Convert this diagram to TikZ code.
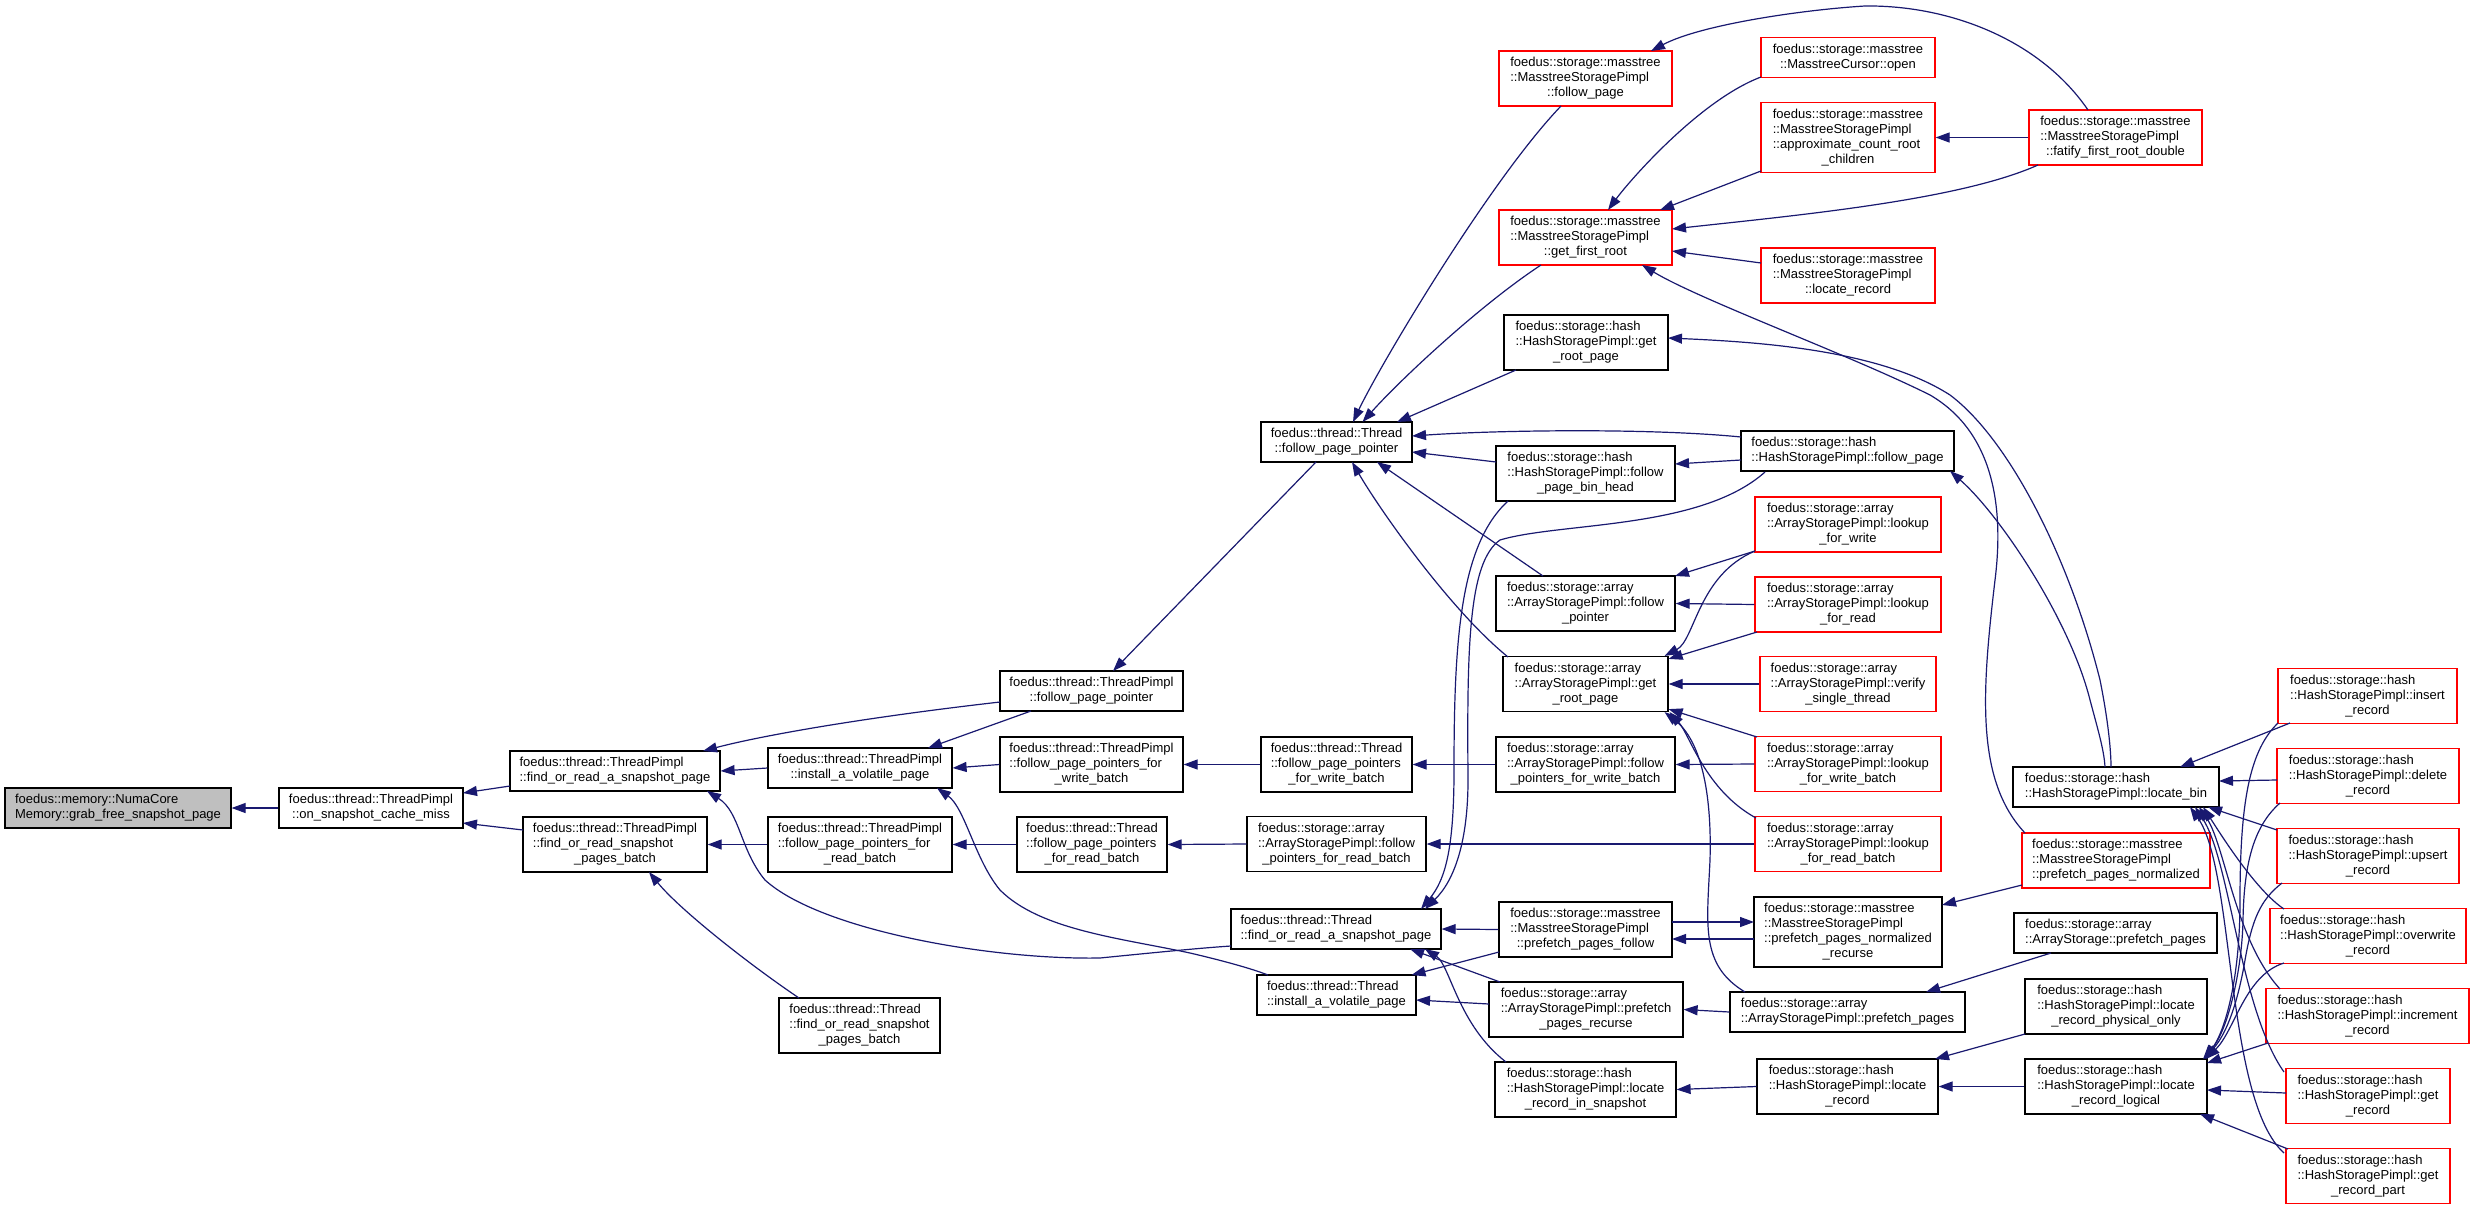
\documentclass[tikz,border=0pt]{standalone}
\usepackage{fontspec}
\setmainfont{Liberation Sans}
\usetikzlibrary{arrows.meta,calc}
\definecolor{cgblue}{HTML}{191970}
\definecolor{cggray}{HTML}{BFBFBF}
\newcommand{\cglab}[2]{\begin{tabular}{@{}l@{}}#1\\\multicolumn{1}{@{}c@{}}{#2}\end{tabular}}
\begin{document}
\begin{tikzpicture}[x=1pt,y=-1pt,
  bx/.style={draw=black, line width=1.2pt, fill=white, inner sep=0pt, rectangle, font=\fontsize{13}{15}\selectfont},
  rbx/.style={bx, draw=red},
  sz/.style 2 args={minimum width=#1pt, minimum height=#2pt},
  cg/.style={draw=cgblue, line width=1.2pt, arrows={Triangle[length=14pt,width=10pt]-}}]
\fill[white] (0,0) rectangle (2475,1210);
\useasboundingbox (0,0) rectangle (2475,1210);

% ---------- nodes ----------
\node[bx,fill=cggray,sz={226}{40}] (grab) at (118,808) {\cglab{foedus::memory::NumaCore}{Memory::grab\_free\_snapshot\_page}};
\node[bx,sz={184}{40}] (osc) at (371,808) {\cglab{foedus::thread::ThreadPimpl}{::on\_snapshot\_cache\_miss}};
\node[bx,sz={210}{40}] (tpfind) at (615,771) {\cglab{foedus::thread::ThreadPimpl}{::find\_or\_read\_a\_snapshot\_page}};
\node[bx,sz={184}{55}] (tpbatch) at (615,844.5) {\cglab{foedus::thread::ThreadPimpl\\::find\_or\_read\_snapshot}{\_pages\_batch}};
\node[bx,sz={184}{40}] (tpinstall) at (860,768) {\cglab{foedus::thread::ThreadPimpl}{::install\_a\_volatile\_page}};
\node[bx,sz={183}{40}] (tpfpp) at (1091.5,691) {\cglab{foedus::thread::ThreadPimpl}{::follow\_page\_pointer}};
\node[bx,sz={183}{55}] (tpfppw) at (1091.5,764.5) {\cglab{foedus::thread::ThreadPimpl\\::follow\_page\_pointers\_for}{\_write\_batch}};
\node[bx,sz={184}{55}] (tpfppr) at (860,844.5) {\cglab{foedus::thread::ThreadPimpl\\::follow\_page\_pointers\_for}{\_read\_batch}};
\node[bx,sz={150}{55}] (thfppr) at (1092,844.5) {\cglab{foedus::thread::Thread\\::follow\_page\_pointers}{\_for\_read\_batch}};
\node[bx,sz={161}{55}] (thbatch) at (859.5,1025.5) {\cglab{foedus::thread::Thread\\::find\_or\_read\_snapshot}{\_pages\_batch}};
\node[bx,sz={151}{55}] (thfppw) at (1336.5,764.5) {\cglab{foedus::thread::Thread\\::follow\_page\_pointers}{\_for\_write\_batch}};
\node[bx,sz={179}{55}] (arfpr) at (1336.5,844) {\cglab{foedus::storage::array\\::ArrayStoragePimpl::follow}{\_pointers\_for\_read\_batch}};
\node[bx,sz={210}{40}] (thfind) at (1336,929) {\cglab{foedus::thread::Thread}{::find\_or\_read\_a\_snapshot\_page}};
\node[bx,sz={159}{40}] (thinstall) at (1336.5,995) {\cglab{foedus::thread::Thread}{::install\_a\_volatile\_page}};
\node[bx,sz={151}{40}] (thfpp) at (1336.5,442) {\cglab{foedus::thread::Thread}{::follow\_page\_pointer}};

\node[rbx,sz={173}{55}] (mfollow) at (1585.5,78.5) {\cglab{foedus::storage::masstree\\::MasstreeStoragePimpl}{::follow\_page}};
\node[rbx,sz={173}{55}] (mgfr) at (1585.5,237.5) {\cglab{foedus::storage::masstree\\::MasstreeStoragePimpl}{::get\_first\_root}};
\node[rbx,sz={174}{40}] (mopen) at (1848,57.5) {\cglab{foedus::storage::masstree}{::MasstreeCursor::open}};
\node[rbx,sz={174}{70}] (mapprox) at (1848,137.5) {\cglab{foedus::storage::masstree\\::MasstreeStoragePimpl\\::approximate\_count\_root}{\_children}};
\node[rbx,sz={174}{55}] (mlocate) at (1848,275.5) {\cglab{foedus::storage::masstree\\::MasstreeStoragePimpl}{::locate\_record}};
\node[rbx,sz={173}{55}] (mfatify) at (2115.5,137.5) {\cglab{foedus::storage::masstree\\::MasstreeStoragePimpl}{::fatify\_first\_root\_double}};

\node[bx,sz={164}{55}] (hgrp) at (1586,342.5) {\cglab{foedus::storage::hash\\::HashStoragePimpl::get}{\_root\_page}};
\node[bx,sz={179}{55}] (hfpbh) at (1585.5,473.5) {\cglab{foedus::storage::hash\\::HashStoragePimpl::follow}{\_page\_bin\_head}};
\node[bx,sz={213}{40}] (hfp) at (1847.5,451) {\cglab{foedus::storage::hash}{::HashStoragePimpl::follow\_page}};
\node[bx,sz={179}{55}] (afp) at (1585.5,603.5) {\cglab{foedus::storage::array\\::ArrayStoragePimpl::follow}{\_pointer}};
\node[bx,sz={165}{55}] (agrp) at (1585.5,684) {\cglab{foedus::storage::array\\::ArrayStoragePimpl::get}{\_root\_page}};
\node[bx,sz={179}{55}] (afpw) at (1585.5,764.5) {\cglab{foedus::storage::array\\::ArrayStoragePimpl::follow}{\_pointers\_for\_write\_batch}};
\node[bx,sz={173}{55}] (mppf) at (1585.5,929.5) {\cglab{foedus::storage::masstree\\::MasstreeStoragePimpl}{::prefetch\_pages\_follow}};
\node[bx,sz={194}{55}] (appr) at (1586,1009.5) {\cglab{foedus::storage::array\\::ArrayStoragePimpl::prefetch}{\_pages\_recurse}};
\node[bx,sz={181}{55}] (hlris) at (1585.5,1089.5) {\cglab{foedus::storage::hash\\::HashStoragePimpl::locate}{\_record\_in\_snapshot}};

\node[rbx,sz={186}{55}] (alfw) at (1848,524.5) {\cglab{foedus::storage::array\\::ArrayStoragePimpl::lookup}{\_for\_write}};
\node[rbx,sz={186}{55}] (alfr) at (1848,604.5) {\cglab{foedus::storage::array\\::ArrayStoragePimpl::lookup}{\_for\_read}};
\node[rbx,sz={176}{55}] (avst) at (1848,684) {\cglab{foedus::storage::array\\::ArrayStoragePimpl::verify}{\_single\_thread}};
\node[rbx,sz={186}{55}] (alfwb) at (1848,764) {\cglab{foedus::storage::array\\::ArrayStoragePimpl::lookup}{\_for\_write\_batch}};
\node[rbx,sz={186}{55}] (alfrb) at (1848,844) {\cglab{foedus::storage::array\\::ArrayStoragePimpl::lookup}{\_for\_read\_batch}};
\node[bx,sz={188}{70}] (mppnr) at (1848,932) {\cglab{foedus::storage::masstree\\::MasstreeStoragePimpl\\::prefetch\_pages\_normalized}{\_recurse}};
\node[bx,sz={235}{40}] (apimplpp) at (1847.5,1012) {\cglab{foedus::storage::array}{::ArrayStoragePimpl::prefetch\_pages}};
\node[bx,sz={181}{55}] (hlr) at (1847.5,1086.5) {\cglab{foedus::storage::hash\\::HashStoragePimpl::locate}{\_record}};

\node[bx,sz={206}{40}] (hlbin) at (2116,787) {\cglab{foedus::storage::hash}{::HashStoragePimpl::locate\_bin}};
\node[rbx,sz={188}{55}] (mppn) at (2116,860.5) {\cglab{foedus::storage::masstree\\::MasstreeStoragePimpl}{::prefetch\_pages\_normalized}};
\node[bx,sz={203}{40}] (aspp) at (2115.5,933) {\cglab{foedus::storage::array}{::ArrayStorage::prefetch\_pages}};
\node[bx,sz={182}{55}] (hlrpo) at (2116,1006.5) {\cglab{foedus::storage::hash\\::HashStoragePimpl::locate}{\_record\_physical\_only}};
\node[bx,sz={182}{55}] (hlrl) at (2116,1086.5) {\cglab{foedus::storage::hash\\::HashStoragePimpl::locate}{\_record\_logical}};

\node[rbx,sz={179}{55}] (hins) at (2367.5,696) {\cglab{foedus::storage::hash\\::HashStoragePimpl::insert}{\_record}};
\node[rbx,sz={182}{55}] (hdel) at (2368,776) {\cglab{foedus::storage::hash\\::HashStoragePimpl::delete}{\_record}};
\node[rbx,sz={182}{55}] (hups) at (2368,856) {\cglab{foedus::storage::hash\\::HashStoragePimpl::upsert}{\_record}};
\node[rbx,sz={196}{55}] (hovw) at (2368,936) {\cglab{foedus::storage::hash\\::HashStoragePimpl::overwrite}{\_record}};
\node[rbx,sz={203}{55}] (hinc) at (2367.5,1016) {\cglab{foedus::storage::hash\\::HashStoragePimpl::increment}{\_record}};
\node[rbx,sz={164}{55}] (hget) at (2368,1096) {\cglab{foedus::storage::hash\\::HashStoragePimpl::get}{\_record}};
\node[rbx,sz={164}{55}] (hgetp) at (2368,1176) {\cglab{foedus::storage::hash\\::HashStoragePimpl::get}{\_record\_part}};

% ---------- edges (arrow at callee) ----------
\draw[cg] (grab.east) -- (osc.west);
\draw[cg] ($(osc)+(92,-15)$) -- ($(tpfind)+(-105,15)$);
\draw[cg] ($(osc)+(92,15)$) -- ($(tpbatch)+(-92,-14.5)$);
\draw[cg] (tpfind.east) -- (tpinstall.west);
\draw[cg] ($(tpfind)+(88,-20)$) .. controls (760,736) and (860,718) .. ($(tpfpp)+(-91.5,11)$);
\draw[cg] ($(tpfind)+(92,20)$) .. controls (740,812) and (740,850) .. (765,880) .. controls (820,930) and (990,960) .. (1100,958) .. controls (1150,953) and (1200,948) .. ($(thfind)+(-105,17)$);
\draw[cg] (tpbatch.east) -- (tpfppr.west);
\draw[cg] ($(tpbatch)+(34,27.5)$) .. controls (680,910) and (750,965) .. ($(thbatch)+(-60.5,-27.5)$);
\draw[cg] ($(tpinstall)+(68,-20)$) -- ($(tpfpp)+(-60.5,20)$);
\draw[cg] (tpinstall.east) -- (tpfppw.west);
\draw[cg] ($(tpinstall)+(77,20)$) .. controls (965,808) and (975,860) .. (1000,890) .. controls (1040,930) and (1120,938) .. (1190,953) .. controls (1220,960) and (1250,968) .. ($(thinstall)+(-68.5,-20)$);
\draw[cg] ($(tpfpp)+(21.5,-20)$) -- ($(thfpp)+(-20.5,20)$);
\draw[cg] (tpfppw.east) -- (thfppw.west);
\draw[cg] (tpfppr.east) -- (thfppr.west);
\draw[cg] (thfppr.east) -- (arfpr.west);
\draw[cg] (thfppw.east) -- (afpw.west);
\draw[cg] (arfpr.east) -- (alfrb.west);
\draw[cg] (afpw.east) -- (alfwb.west);

% into Thread::follow_page_pointer
\draw[cg] ($(thfpp)+(16.5,-20)$) .. controls (1380,365) and (1490,180) .. ($(mfollow)+(-24.5,27.5)$);
\draw[cg] ($(thfpp)+(26,-20)$) .. controls (1400,380) and (1480,305) .. ($(mgfr)+(-44.5,27.5)$);
\draw[cg] ($(thfpp)+(60.5,-20)$) -- ($(hgrp)+(-70,27.5)$);
\draw[cg] ($(thfpp)+(75.5,-6)$) .. controls (1500,430) and (1650,428) .. ($(hfp)+(-106.5,-14)$);
\draw[cg] ($(thfpp)+(75.5,10)$) -- ($(hfpbh)+(-89.5,-11.5)$);
\draw[cg] ($(thfpp)+(40.5,20)$) -- ($(afp)+(-42.5,-27.5)$);
\draw[cg] ($(thfpp)+(15.5,20)$) .. controls (1380,510) and (1450,610) .. ($(agrp)+(-77.5,-27)$);

% into Thread::find_or_read_a_snapshot_page
\draw[cg] ($(thfind)+(85,-20)$) .. controls (1445,880) and (1454,850) .. (1454,770) .. controls (1454,640) and (1460,545) .. ($(hfpbh)+(-77.5,27.5)$);
\draw[cg] ($(thfind)+(89,-20)$) .. controls (1455,880) and (1468,840) .. (1468,780) .. controls (1467,650) and (1468,562) .. (1500,540) .. controls (1560,522) and (1700,530) .. ($(hfp)+(-82.5,21)$);
\draw[cg] (thfind.east) -- (mppf.west);
\draw[cg] ($(thfind)+(74,20)$) -- ($(appr)+(-86,-27.5)$);
\draw[cg] ($(thfind)+(89,20)$) .. controls (1450,965) and (1458,1025) .. ($(hlris)+(-79.5,-27.5)$);

% into Thread::install_a_volatile_page
\draw[cg] ($(thinstall)+(75,-20)$) -- ($(mppf)+(-86.5,22.5)$);
\draw[cg] ($(thinstall)+(79.5,5)$) -- ($(appr)+(-97,-5.5)$);

% masstree
\draw[cg] ($(mfollow)+(65.5,-27.5)$) .. controls (1700,25) and (1800,10) .. (1865,6) .. controls (1950,5) and (2040,40) .. ($(mfatify)+(-27.5,-27.5)$);
\draw[cg] ($(mgfr)+(22.5,-27.5)$) .. controls (1630,180) and (1700,100) .. ($(mopen)+(-87,19.5)$);
\draw[cg] ($(mgfr)+(74.5,-27.5)$) -- ($(mapprox)+(-87,33.5)$);
\draw[cg] ($(mgfr)+(86.5,-8.5)$) .. controls (1800,215) and (1960,200) .. ($(mfatify)+(-77.5,27.5)$);
\draw[cg] ($(mgfr)+(86.5,13.5)$) -- ($(mlocate)+(-87,-12.5)$);
\draw[cg] ($(mgfr)+(56.5,27.5)$) .. controls (1700,300) and (1850,355) .. (1930,395) .. controls (1990,430) and (2005,500) .. (1995,580) .. controls (1982,690) and (1975,780) .. ($(mppn)+(-91,-27.5)$);
\draw[cg] (mapprox.east) -- (mfatify.west);

% hash get_root_page / follow_page
\draw[cg] ($(hgrp)+(82,-4.5)$) .. controls (1760,342) and (1880,350) .. (1950,395) .. controls (2010,440) and (2070,560) .. (2100,680) .. controls (2108,720) and (2111,750) .. ($(hlbin)+(-5,-20)$);
\draw[cg] ($(hfp)+(102.5,20)$) .. controls (2000,515) and (2070,620) .. (2090,700) .. controls (2098,730) and (2104,750) .. ($(hlbin)+(-11,-20)$);
\draw[cg] ($(hfpbh)+(89.5,-9.5)$) -- ($(hfp)+(-106.5,9)$);

% array follow_pointer / get_root_page
\draw[cg] ($(afp)+(89.5,-27.5)$) -- ($(alfw)+(-93,26.5)$);
\draw[cg] (afp.east) -- (alfr.west);
\draw[cg] ($(agrp.north east)+(-4,0)$) .. controls (1695,640) and (1698,575) .. ($(alfw)+(-93,26.5)$);
\draw[cg] ($(agrp.north east)+(0,3)$) -- ($(alfr)+(-91,27.5)$);
\draw[cg] (agrp.east) -- (avst.west);
\draw[cg] ($(agrp.south east)+(0,-3)$) -- ($(alfwb)+(-91,-27)$);
\draw[cg] ($(agrp.south east)+(1,0)$) .. controls (1690,735) and (1705,790) .. ($(alfrb)+(-92,-26)$);
\draw[cg] ($(agrp.south east)+(-4,0)$) .. controls (1700,740) and (1712,790) .. (1710,860) .. controls (1707,925) and (1700,965) .. ($(apimplpp)+(-102.5,-20)$);

% prefetch
\draw[cg] ($(mppnr)+(-94,-10)$) -- ($(mppf)+(86.5,-7.5)$);
\draw[cg] ($(mppf)+(86.5,9.5)$) -- ($(mppnr)+(-94,7)$);
\draw[cg] ($(mppnr)+(94,-27)$) -- ($(mppn)+(-94,24.5)$);
\draw[cg] (appr.east) -- (apimplpp.west);
\draw[cg] ($(apimplpp)+(78.5,-20)$) -- ($(aspp)+(-64.5,20)$);

% hash locate_record
\draw[cg] (hlris.east) -- (hlr.west);
\draw[cg] ($(hlr)+(87.5,-27.5)$) -- ($(hlrpo)+(-91,27.5)$);
\draw[cg] (hlr.east) -- (hlrl.west);

% into locate_bin
\draw[cg] ($(hlbin)+(64,-20)$) -- ($(hins)+(-77.5,27)$);
\draw[cg] ($(hlbin)+(103,-6)$) -- ($(hdel)+(-91,4)$);
\draw[cg] ($(hlbin)+(92,20)$) -- ($(hups)+(-91,-26)$);
\draw[cg] ($(hlbin)+(87,20)$) .. controls (2218,830) and (2255,890) .. ($(hovw)+(-84,-27)$);
\draw[cg] ($(hlbin)+(83,20)$) .. controls (2225,845) and (2235,940) .. ($(hinc)+(-87.5,-27)$);
\draw[cg] ($(hlbin)+(79,20)$) .. controls (2230,860) and (2240,1010) .. ($(hget)+(-84,-24)$);
\draw[cg] ($(hlbin)+(74,20)$) .. controls (2235,870) and (2225,1100) .. ($(hgetp)+(-84,-23)$);

% into locate_record_logical
\draw[cg] ($(hlrl)+(89,-27.5)$) .. controls (2225,1030) and (2240,980) .. (2240,900) .. controls (2240,800) and (2250,750) .. ($(hins)+(-89.5,27)$);
\draw[cg] ($(hlrl)+(87,-27.5)$) .. controls (2228,1030) and (2242,970) .. (2243,920) .. controls (2244,860) and (2255,825) .. ($(hdel)+(-88,27)$);
\draw[cg] ($(hlrl)+(88,-27.5)$) .. controls (2230,1030) and (2240,990) .. (2245,960) .. controls (2252,920) and (2260,900) .. ($(hups)+(-86,27)$);
\draw[cg] ($(hlrl)+(90,-27.5)$) .. controls (2235,1030) and (2245,975) .. ($(hovw)+(-84,27)$);
\draw[cg] ($(hlrl)+(91,-23.5)$) -- ($(hinc)+(-99.5,27)$);
\draw[cg] ($(hlrl)+(91,3.5)$) -- ($(hget)+(-82,-3)$);
\draw[cg] ($(hlrl)+(84,27.5)$) -- ($(hgetp)+(-80,-27)$);
\end{tikzpicture}
\end{document}
